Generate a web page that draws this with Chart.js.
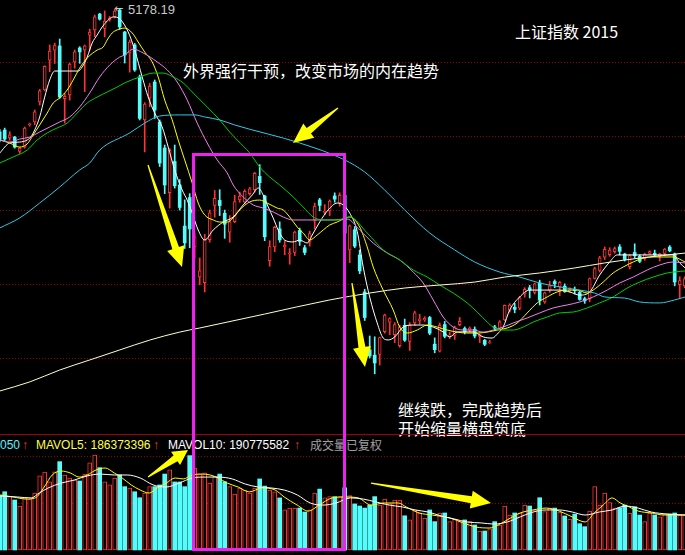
<!DOCTYPE html>
<html><head><meta charset="utf-8">
<script src="https://cdn.jsdelivr.net/npm/chart.js@4.4.1/dist/chart.umd.min.js"></script>
<style>
html,body{margin:0;padding:0;background:#000;}
#wrap{position:relative;width:685px;height:555px;overflow:hidden;background:#000;}
canvas{position:absolute;left:0;z-index:2;}
.t{position:absolute;z-index:1;white-space:nowrap;color:#fff;}
.cjk{font-family:"Noto Sans CJK SC",sans-serif;font-size:16px;line-height:16px;}
.lg{font-family:"Liberation Sans",Arial,sans-serif;font-size:12px;line-height:12px;}
</style></head>
<body><div id="wrap">
<canvas id="price" width="685" height="434" style="top:0"></canvas>
<canvas id="vol" width="685" height="121" style="top:434px"></canvas>
<div class="t lg" style="left:114px;top:3px;color:#c8c8c8;font-family:'DejaVu Sans';font-size:11px">←</div>
<div class="t lg" style="left:128px;top:3px;color:#c8c8c8;font-size:13px;line-height:13px">5178.19</div>
<div class="t cjk" style="left:515px;top:23px">上证指数 2015</div>
<div class="t cjk" style="left:183px;top:62px">外界强行干预，改变市场的内在趋势</div>
<div class="t cjk" style="left:398px;top:401px">继续跌，完成趋势后</div>
<div class="t cjk" style="left:398px;top:420px">开始缩量横盘筑底</div>
<div class="t lg" style="left:0px;top:439px;color:#5ef0ff">050</div>
<div class="t lg" style="left:22px;top:439px;color:#ff3030">↑</div>
<div class="t lg" style="left:36px;top:439px;color:#ffff40">MAVOL5: 186373396</div>
<div class="t lg" style="left:153px;top:439px;color:#ff3030">↑</div>
<div class="t lg" style="left:168px;top:439px;color:#ffffff">MAVOL10: 190775582</div>
<div class="t lg" style="left:294px;top:439px;color:#ff3030">↑</div>
<div class="t lg" style="left:310px;top:439px;color:#a0a0a0;font-family:'Noto Sans CJK SC'">成交量已复权</div>
</div>
<script>
// ---- data (SSE Composite, 2015) ----
const dates = ['05-12','05-13','05-14','05-15','05-18','05-19','05-20','05-21','05-22','05-25','05-26','05-27','05-28','05-29',
'06-01','06-02','06-03','06-04','06-05','06-08','06-09','06-10','06-11','06-12','06-15','06-16','06-17','06-18','06-19','06-23','06-24','06-25','06-26','06-29','06-30',
'07-01','07-02','07-03','07-06','07-07','07-08','07-09','07-10','07-13','07-14','07-15','07-16','07-17','07-20','07-21','07-22','07-23','07-24','07-27','07-28','07-29','07-30','07-31',
'08-03','08-04','08-05','08-06','08-07','08-10','08-11','08-12','08-13','08-14','08-17','08-18','08-19','08-20','08-21','08-24','08-25','08-26','08-27','08-28','08-31',
'09-01','09-02','09-07','09-08','09-09','09-10','09-11','09-14','09-15','09-16','09-17','09-18','09-21','09-22','09-23','09-24','09-25','09-28','09-29','09-30',
'10-08','10-09','10-12','10-13','10-14','10-15','10-16','10-19','10-20','10-21','10-22','10-23','10-26','10-27','10-28','10-29','10-30',
'11-02','11-03','11-04','11-05','11-06','11-09','11-10','11-11','11-12','11-13','11-16','11-17','11-18','11-19','11-20','11-23','11-24','11-25','11-26','11-27','11-30','12-01'];

const open = [4395,
4405,4355,4361,4270,4297,4440,4457,4585,4661,4852,
4915,4942,4605,4629,4840,4929,4916,5011,5044,5145,
5054,5108,5127,5171,5031,4897,4948,4744,4470,4610,
4712,4457,4291,4006,4205,4055,3793,3975,3660,3469,
3432,3707,3925,3957,3875,3755,3822,3960,3945,4000,
4025,4110,3985,3573,3660,3775,3660,3614,3625,3765,
3655,3690,3830,3960,3880,3890,3985,3940,3990,3641,
3770,3609,3373,3004,2970,2975,3120,3180,3100,3030,
3160,3057,3175,3190,3195,3210,3040,2995,3165,3092,
3095,3165,3140,3130,3135,3090,3065,3048,3150,3140,
3195,3255,3275,3270,3360,3400,3370,3430,3310,3385,
3440,3405,3410,3380,3390,3370,3330,3330,3460,3510,
3595,3610,3630,3660,3615,3535,3625,3600,3585,3618,
3620,3600,3618,3659,3616,3420,3412];
const close = [4345,
4348,4375,4297,4290,4418,4446,4521,4655,4812,4910,
4945,4616,4620,4827,4904,4904,4942,5030,5127,5113,
5100,5121,5165,5063,4884,4967,4789,4480,4571,4686,
4533,4195,4055,4277,4050,3912,3686,3775,3725,3507,
3709,3877,3970,3924,3805,3820,3950,3985,4015,4030,
4130,4070,3725,3663,3785,3705,3672,3622,3755,3695,
3625,3745,3920,3925,3887,3952,3965,3990,3748,3794,
3665,3507,3210,2965,2920,3082,3226,3203,3165,3150,
3065,3160,3240,3200,3205,3110,3005,3160,3090,3097,
3150,3185,3120,3143,3092,3100,3039,3053,3143,3183,
3287,3290,3262,3335,3390,3386,3425,3320,3368,3412,
3425,3435,3375,3387,3382,3325,3316,3459,3522,3590,
3645,3640,3650,3632,3580,3605,3604,3568,3615,3630,
3610,3616,3647,3635,3436,3445,3456];
const high = [4410,
4418,4395,4365,4296,4425,4450,4533,4665,4815,4948,
4960,4986,4640,4833,4916,4937,4948,5048,5139,5150,
5165,5130,5178,5177,5035,4980,4958,4757,4580,4703,
4725,4470,4310,4287,4310,4090,3960,4000,3750,3590,
3740,3895,4020,4025,3895,3860,3990,4010,4025,4040,
4135,4185,3990,3700,3792,3820,3700,3650,3760,3780,
3670,3760,3940,3970,3930,3960,4005,4005,4006,3800,
3790,3640,3390,3092,3087,3085,3232,3208,3178,3160,
3200,3178,3250,3230,3215,3217,3080,3175,3185,3115,
3155,3210,3150,3150,3150,3105,3070,3065,3160,3190,
3290,3298,3300,3345,3400,3415,3430,3448,3372,3440,
3450,3440,3425,3400,3405,3380,3340,3462,3530,3600,
3660,3655,3660,3675,3620,3612,3680,3610,3620,3635,
3640,3620,3650,3669,3621,3470,3470];
const low = [4330,
4336,4340,4290,4257,4290,4430,4440,4565,4655,4778,
4830,4608,4450,4597,4800,4831,4650,4916,5001,5107,
4999,5100,5120,5048,4833,4775,4780,4470,4266,4554,
4480,4173,4000,3908,4035,3895,3650,3655,3590,3420,
3373,3690,3850,3860,3715,3690,3815,3945,3935,3990,
4010,3995,3700,3537,3630,3690,3610,3550,3605,3670,
3610,3665,3775,3890,3865,3860,3945,3920,3735,3560,
3655,3490,3191,2952,2851,2907,3110,3100,3050,3020,
3057,3000,3160,3170,3185,3100,2985,2990,3080,3075,
3070,3158,3105,3120,3080,3050,3030,3045,3130,3130,
3190,3245,3240,3260,3340,3335,3360,3290,3300,3370,
3400,3350,3370,3370,3360,3320,3300,3310,3455,3500,
3580,3600,3620,3610,3570,3520,3590,3560,3575,3612,
3600,3570,3605,3629,3412,3330,3400];
// volume, millions
const volume = [290,
310,284,266,234,277,271,303,395,415,362,
416,470,399,383,372,367,404,463,505,438,
363,346,383,399,337,330,310,278,303,337,
337,346,404,426,362,362,337,502,436,404,
410,356,390,404,363,337,298,330,319,303,
330,378,340,319,310,277,213,223,223,223,
202,213,303,324,277,284,284,284,331,289,
245,234,223,239,284,239,271,245,266,266,
182,160,213,197,170,213,151,197,197,151,
165,151,160,151,133,101,101,112,151,133,
234,186,197,197,239,234,213,278,204,223,
223,202,181,165,191,140,124,207,337,239,
303,252,223,225,239,197,230,186,151,197,
186,177,191,191,197,186,186];

// moving-average lines: [session index, value]
const ma5 = [[-1,4259],[1,4323],[3,4329],[4.5,4342],[5.2,4361],[6,4406],[7,4489],[8,4616],[9,4725],[10,4782],[11,4782],[12.5,4782],[14.7,4782],[15.5,4808],[16.5,4871],[17.5,4961],[18.5,5012],[19.5,5063],[20.5,5101],[21.7,5127],[23,5115],[24.7,5031],[26,4916],[27.5,4744],[28.7,4616],[30,4514],[31.5,4425],[32.7,4297],[34,4151],[35.5,4023],[36.5,3959],[37.5,3876],[38.7,3768],[40,3704],[41.7,3768],[43.7,3819],[45.7,3851],[47.7,3928],[49.5,3991],[50.7,4036],[51.7,3991],[52.7,3915],[53.7,3845],[54.7,3768],[56,3704],[57.7,3692],[59,3704],[60.5,3685],[61.5,3736],[63,3819],[64.7,3896],[66.5,3940],[67.7,3928],[69,3876],[70.5,3760],[71.7,3532],[73,3341],[74.5,3175],[75.7,3079],[76.7,3067],[78,3086],[79.7,3149],[81.7,3162],[83.7,3162],[85.7,3149],[87.7,3118],[89,3086],[90.5,3118],[91.7,3118],[93.7,3118],[95.7,3086],[97.5,3079],[98.7,3111],[99.7,3149],[101,3258],[103,3341],[105,3385],[107,3385],[109,3385],[111,3385],[113,3373],[115,3353],[117,3373],[119,3481],[121,3564],[122.5,3609],[125,3609],[129,3609],[133.7,3609],[135,3558],[136.1,3526]];
const ma10 = [[-1,4342],[1,4323],[3,4297],[4.5,4317],[5.7,4374],[7,4438],[8.5,4514],[9.7,4578],[11,4610],[12.5,4661],[13.7,4725],[15,4801],[16.5,4865],[18.5,4916],[19.7,4935],[20.5,4980],[21.5,5025],[22.5,5044],[24,5056],[25.5,5025],[26.7,4967],[28,4903],[29.5,4840],[30.7,4744],[32,4597],[33.5,4470],[34.7,4342],[36,4215],[37.5,4068],[38.7,3940],[40,3864],[41.7,3832],[43,3819],[44.5,3819],[45.7,3845],[47,3896],[49,3947],[51,3959],[52.5,3940],[54.5,3908],[55.7,3896],[57,3851],[58.5,3787],[59.7,3749],[61,3704],[62.5,3736],[63.7,3768],[65,3800],[66.5,3819],[67.7,3838],[69,3851],[71,3787],[72.5,3660],[73.7,3532],[75.7,3385],[77.7,3258],[79,3149],[80.5,3111],[82.5,3130],[84.5,3162],[86.5,3149],[88.5,3130],[90.5,3117],[92.5,3111],[94.5,3111],[96.5,3117],[98.5,3130],[100.5,3143],[102.5,3175],[104.5,3239],[106.5,3303],[108.5,3341],[110.5,3373],[112.5,3385],[114.5,3385],[116.5,3366],[117.7,3385],[119.7,3436],[121.7,3494],[123.7,3532],[125.7,3564],[127.7,3589],[129.7,3596],[131.7,3596],[133.7,3596],[136.1,3564]];
const ma20 = [[-1,4342],[1,4329],[3,4348],[5,4361],[7,4393],[9,4425],[11,4457],[13,4489],[15,4553],[17,4642],[19,4744],[21,4820],[23,4871],[24,4884],[25.7,4922],[27.7,4897],[30.5,4840],[32.5,4789],[34.5,4712],[36.5,4597],[38.5,4450],[40.5,4323],[42.5,4215],[44.5,4132],[45.7,4055],[47.7,3979],[49.7,3928],[51.7,3908],[53.7,3883],[55.7,3851],[57.7,3832],[60.5,3832],[63,3832],[65.7,3832],[68.5,3838],[71,3768],[73.7,3685],[76.5,3621],[79,3577],[81.7,3500],[83.7,3430],[85.7,3322],[87.7,3213],[89.7,3149],[91.7,3130],[93.7,3130],[95.7,3117],[97.7,3130],[99.7,3149],[101.7,3175],[104.5,3207],[107,3239],[109.7,3271],[112.5,3290],[115,3309],[117.7,3341],[120.5,3385],[123,3430],[125.7,3468],[128.5,3513],[131,3545],[133.7,3564],[136.1,3558]];
const ma30 = [[-1,4195],[1.7,4234],[4.5,4278],[6.5,4342],[8.5,4387],[10.5,4419],[12.5,4450],[14.5,4514],[16.5,4578],[18.5,4616],[20.5,4648],[22.5,4680],[24,4706],[27,4744],[29.7,4769],[31.7,4769],[33.7,4744],[35.7,4706],[37.7,4642],[40.5,4553],[43,4470],[45,4393],[46.5,4342],[49,4259],[51,4170],[53,4106],[55,4055],[57.7,3979],[59.7,3915],[61.7,3851],[63.7,3832],[66.5,3832],[69,3851],[72.5,3749],[75.7,3641],[79,3577],[81.7,3513],[84.5,3468],[87,3417],[89.7,3366],[92.5,3303],[94.5,3245],[96.5,3181],[97.7,3149],[99.7,3130],[101.7,3130],[103.7,3149],[105.7,3181],[108.5,3213],[111,3239],[113.7,3245],[116.5,3271],[119,3303],[121.7,3341],[124.5,3398],[127,3436],[129.7,3468],[132.5,3494],[136.1,3507]];
const ma60 = [[-1,3781],[3,3845],[7,3940],[11,4042],[15,4151],[17,4195],[19,4278],[25,4387],[28,4450],[31,4495],[35,4502],[38,4502],[40,4489],[43,4470],[46,4438],[59,4323],[68,4215],[72,4138],[76,4023],[80,3896],[85,3749],[90,3641],[94,3564],[99,3500],[103,3468],[107,3430],[111,3405],[115,3385],[118,3366],[120,3341],[124,3334],[127,3309],[131,3303],[134,3322],[136.1,3341]];
const ma250 = [[-1,2741],[5,2799],[11,2875],[17,2939],[23,3003],[29,3066],[35,3117],[39,3143],[52,3232],[65,3322],[73,3366],[80,3398],[87,3417],[94,3436],[100,3468],[107,3494],[114,3526],[120,3558],[127,3589],[136.1,3621]];
const mavol5 = [[-0.9,293],[1.7,282],[4.3,271],[6.1,277],[7.9,335],[9.5,399],[11.3,420],[13.1,410],[14.9,388],[16.5,399],[18.3,426],[20.1,436],[21.9,410],[23.5,383],[25.3,346],[27.1,319],[28.9,303],[30.5,330],[32.3,356],[34.1,383],[35.7,378],[37.5,399],[39.3,404],[41.1,399],[42.7,383],[44.5,356],[46.7,335],[48.9,309],[51.5,330],[54.1,319],[55.9,282],[58.5,239],[60.7,207],[62.9,239],[65.5,277],[68.1,282],[70.7,277],[73.3,239],[75.9,250],[78.7,250],[80.3,229],[82.9,197],[85.5,186],[89.1,170],[91.7,144],[94.3,122],[96.9,117],[98.7,133],[100.5,160],[103.1,197],[105.7,213],[108.3,223],[110.9,207],[113.5,176],[116.1,149],[117.9,197],[119.7,239],[121.5,277],[123.1,250],[124.9,229],[126.7,207],[129.3,197],[131.9,186],[136.1,186]];
const mavol10 = [[-0.9,287],[2.5,282],[5.3,277],[6.9,303],[8.7,330],[11.3,356],[13.9,372],[16.5,394],[19.1,404],[21.9,399],[24.5,399],[27.1,383],[29.7,346],[32.3,335],[34.9,356],[37.5,383],[40.1,388],[42.7,388],[45.5,378],[48.1,351],[50.7,335],[53.3,330],[55.9,319],[58.5,293],[61.1,250],[63.7,239],[66.3,250],[69.1,277],[71.7,271],[74.3,255],[76.9,239],[79.5,229],[82.1,213],[84.7,202],[87.3,181],[89.9,165],[92.5,149],[95.3,144],[97.9,138],[100.5,149],[103.1,176],[105.7,202],[108.3,213],[110.9,213],[113.5,202],[116.1,186],[118.9,202],[121.5,213],[124.1,234],[126.7,223],[129.3,202],[132.7,191],[136.1,186]];

const priceGrid = [4840,4368,3896,3424,2952];
const volGrid = [250,500];

// annotations (data units)
const boxSpan = {from:37.76, to:67.96, topPrice:4250, bottomVol:2.7};
const priceArrows = [{from:[66.66,4546],to:[57.66,4323]},{from:[28.66,4183],to:[35.46,3532]},{from:[69.46,3430],to:[72.06,2894]}];
const volArrows = [{from:[28.66,388],to:[36.66,532],hl:15,hw:8},{from:[73.26,356],to:[97.26,250]}];

// ---- rendering ----
const RED='#ff3333', CYAN='#54fcfc';
const idx = dates.map((d,i)=>i-1);
const up = close.map((c,i)=>c>=open[i]);
const pts = a => a.map(p=>({x:p[0],y:p[1]}));

function drawArrow(ctx,x1,y1,x2,y2,hl,hw){
  hl=hl||20; hw=hw||9; const w0=0.6,w1=3.5;
  const dx=x2-x1,dy=y2-y1,L=Math.hypot(dx,dy),ux=dx/L,uy=dy/L,px=-uy,py=ux;
  const bx=x2-ux*hl,by=y2-uy*hl;
  ctx.beginPath();
  ctx.moveTo(x1+px*w0,y1+py*w0);
  ctx.lineTo(bx+px*w1,by+py*w1);
  ctx.lineTo(bx+px*hw,by+py*hw);
  ctx.lineTo(x2,y2);
  ctx.lineTo(bx-px*hw,by-py*hw);
  ctx.lineTo(bx-px*w1,by-py*w1);
  ctx.lineTo(x1-px*w0,y1-py*w0);
  ctx.closePath(); ctx.fill();
}

const overlay = {
  id:'overlay',
  beforeDatasetsDraw(chart,args,o){
    const {ctx,chartArea:a,scales}=chart;
    ctx.save();
    if(o.separator){ctx.strokeStyle='#a00000';ctx.lineWidth=1;ctx.beginPath();ctx.moveTo(a.left,0.5);ctx.lineTo(a.right,0.5);ctx.stroke();}
    ctx.strokeStyle='#9a0000'; ctx.lineWidth=1; ctx.setLineDash([1,2]);
    o.grid.forEach(v=>{const y=Math.round(scales.y.getPixelForValue(v))+0.5;ctx.beginPath();ctx.moveTo(a.left,y);ctx.lineTo(a.right,y);ctx.stroke();});
    ctx.restore();
  },
  afterDatasetsDraw(chart,args,o){
    const {ctx,chartArea:a,scales}=chart;
    ctx.save();
    ctx.fillStyle='#ffff00';
    o.arrows.forEach(ar=>drawArrow(ctx,scales.x.getPixelForValue(ar.from[0]),scales.y.getPixelForValue(ar.from[1]),scales.x.getPixelForValue(ar.to[0]),scales.y.getPixelForValue(ar.to[1]),ar.hl,ar.hw));
    const xl=scales.x.getPixelForValue(boxSpan.from), xr=scales.x.getPixelForValue(boxSpan.to);
    ctx.strokeStyle='#ee22ee'; ctx.lineWidth=3; ctx.lineJoin='miter';
    ctx.beginPath();
    if(o.panel==='price'){
      const yt=scales.y.getPixelForValue(boxSpan.topPrice);
      ctx.moveTo(xl,a.bottom+3);ctx.lineTo(xl,yt);ctx.lineTo(xr,yt);ctx.lineTo(xr,a.bottom+3);
    } else {
      const yb=scales.y.getPixelForValue(boxSpan.bottomVol);
      ctx.moveTo(xl,-3);ctx.lineTo(xl,yb);ctx.lineTo(xr,yb);ctx.lineTo(xr,-3);
    }
    ctx.stroke();
    ctx.restore();
  }
};

const xScale = ()=>({type:'linear',min:-0.94,max:136.06,offset:false,display:false});
const lineDs = (data,color)=>({type:'line',data:pts(data),borderColor:color,borderWidth:1,pointRadius:0,fill:false,cubicInterpolationMode:'monotone',order:0});
const common = {responsive:false,animation:false,devicePixelRatio:1,events:[],layout:{padding:0}};

new Chart(document.getElementById('price'),{
  type:'bar',
  data:{datasets:[
    lineDs(ma250,'#ffffc8'),
    lineDs(ma60,'#30c8e8'),
    lineDs(ma30,'#00d000'),
    lineDs(ma20,'#f080f0'),
    lineDs(ma10,'#ffff00'),
    lineDs(ma5,'#ffffff'),
    {data:idx.map((x,i)=>({x,y:[open[i],close[i]]})),grouped:false,barThickness:3,order:1,borderSkipped:false,
     backgroundColor:c=>up[c.dataIndex]?'#000000':CYAN,borderColor:c=>up[c.dataIndex]?RED:CYAN,borderWidth:c=>up[c.dataIndex]?1:0},
    {data:idx.map((x,i)=>({x,y:[low[i],high[i]]})),grouped:false,barThickness:1,order:2,borderWidth:0,
     backgroundColor:c=>up[c.dataIndex]?RED:CYAN}
  ]},
  options:Object.assign({},common,{
    plugins:{legend:{display:false},tooltip:{enabled:false},overlay:{grid:priceGrid,arrows:priceArrows,panel:'price'}},
    scales:{x:xScale(),y:{min:2467,max:5235,display:false}}
  }),
  plugins:[overlay]
});

new Chart(document.getElementById('vol'),{
  type:'bar',
  data:{datasets:[
    lineDs(mavol10,'#ffffff'),
    lineDs(mavol5,'#ffff00'),
    {data:idx.map((x,i)=>({x,y:volume[i]})),grouped:false,barThickness:4,order:1,borderSkipped:false,
     backgroundColor:c=>up[c.dataIndex]?'#000000':CYAN,borderColor:c=>up[c.dataIndex]?RED:CYAN,borderWidth:c=>up[c.dataIndex]?1:0}
  ]},
  options:Object.assign({},common,{
    plugins:{legend:{display:false},tooltip:{enabled:false},overlay:{grid:volGrid,arrows:volArrows,panel:'vol',separator:true}},
    scales:{x:xScale(),y:{min:-26.6,max:617,display:false}}
  }),
  plugins:[overlay]
});
</script>
</body></html>
